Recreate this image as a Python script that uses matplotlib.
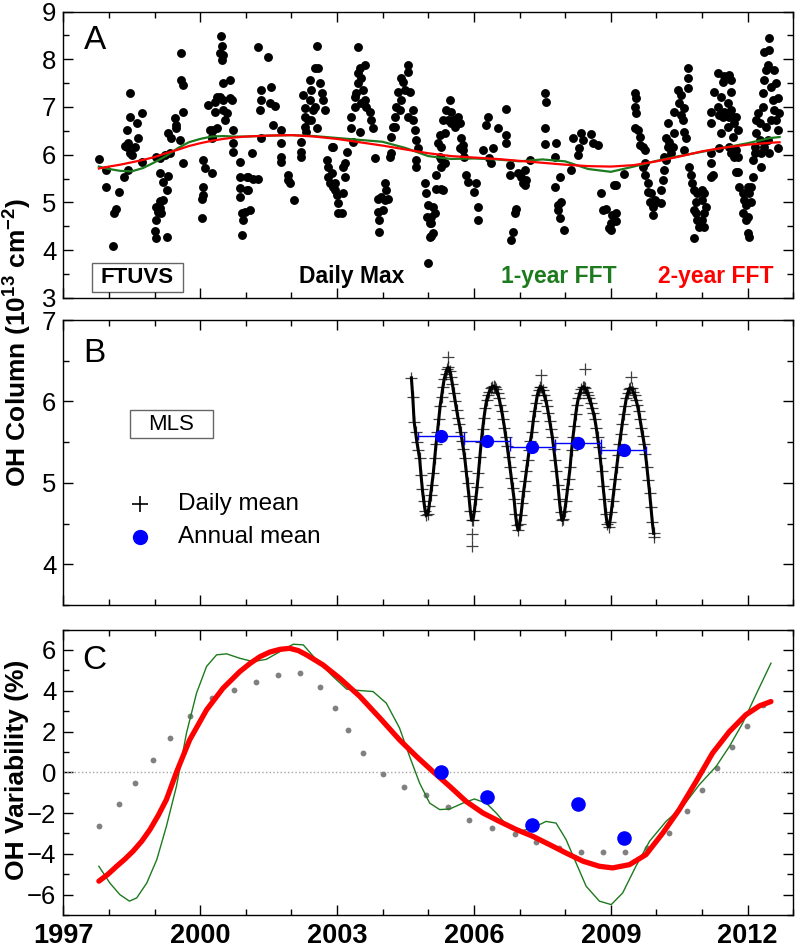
import numpy as np
import matplotlib
matplotlib.use('Agg')
import matplotlib.pyplot as plt
from matplotlib.ticker import MultipleLocator
from matplotlib.patches import Rectangle

plt.rcParams['font.family'] = ['Liberation Sans', 'DejaVu Sans']
plt.rcParams['mathtext.fontset'] = 'custom'
plt.rcParams['mathtext.rm'] = 'Liberation Sans'
plt.rcParams['mathtext.bf'] = 'Liberation Sans:bold'

# panel A: FTUVS daily max OH column (1e13 cm-2), one line per season
ftuvs_year = [
    1997.78, 1997.93, 1997.93, 1998.23, 1998.15, 1998.12, 1998.08, 1998.34, 1998.41, 1998.46, 1998.46, 1998.39, 1998.42, 1998.39, 1998.46, 1998.50, 1998.61, 1998.64, 1998.57, 1998.72, 1998.72, 1998.35,
    1999.04, 1999.08, 1999.12, 1999.12, 1999.04, 1999.01, 1999.04, 1999.15, 1999.19, 1999.19, 1999.12, 1999.28, 1999.28, 1999.30, 1999.04, 1999.12, 1999.23, 1999.34, 1999.30, 1999.37, 1999.45, 1999.48, 1999.48, 1999.63, 1999.63, 1999.59, 1999.59, 1999.56, 1999.63,
    2000.07, 2000.10, 2000.07, 2000.07, 2000.03, 2000.03, 2000.25, 2000.18, 2000.32, 2000.32, 2000.36, 2000.43, 2000.50, 2000.54, 2000.58, 2000.50, 2000.65, 2000.69, 2000.47, 2000.50, 2000.47, 2000.45, 2000.43, 2000.50, 2000.65, 2000.25, 2000.29, 2000.36, 2000.72, 2000.72, 2000.72, 2000.21, 2000.25,
    2000.87, 2000.87, 2000.87, 2000.87, 2000.91, 2000.94, 2000.91, 2001.02, 2001.02, 2000.98, 2001.05, 2001.09, 2001.05, 2001.16, 2001.27, 2001.13,
    2001.26, 2001.48, 2001.33, 2001.33, 2001.31, 2001.55, 2001.53, 2001.64, 2001.60, 2001.34, 2001.78, 2001.78, 2001.78, 2001.78, 2001.93, 2001.93, 2001.96, 2002.06,
    2002.22, 2002.22, 2002.21, 2002.29, 2002.29, 2002.29, 2002.26, 2002.40, 2002.44, 2002.51, 2002.59, 2002.55, 2002.40, 2002.48, 2002.37, 2002.44, 2002.55, 2002.66, 2002.69, 2002.73, 2002.62, 2002.51, 2002.33,
    2002.88, 2002.91, 2002.77, 2002.80, 2002.80, 2002.88, 2002.84, 2002.91, 2002.95, 2002.99, 2003.02, 2003.10, 2003.02, 2003.13, 2003.17, 2003.17, 2003.21, 2003.13, 2002.95,
    2003.31, 2003.35, 2003.31, 2003.39, 2003.42, 2003.46, 2003.46, 2003.46, 2003.50, 2003.61, 2003.53, 2003.57, 2003.61, 2003.64, 2003.72, 2003.75, 2003.79, 2003.39, 2003.53, 2003.50, 2003.83,
    2003.90, 2004.05, 2004.08, 2003.97, 2003.90, 2003.93, 2003.93, 2004.05, 2004.01, 2004.12,
    2004.19, 2004.19, 2004.15, 2004.23, 2004.26, 2004.30, 2004.34, 2004.41, 2004.45, 2004.56, 2004.56, 2004.48, 2004.59, 2004.41, 2004.37, 2004.56, 2004.67, 2004.67, 2004.70, 2004.74, 2004.77, 2004.74, 2004.74, 2004.26,
    2004.92, 2004.96, 2004.99, 2004.98, 2005.03, 2005.03, 2004.99, 2005.07, 2005.07, 2005.10, 2005.14, 2005.07, 2005.10,
    2005.17, 2005.28, 2005.32, 2005.17, 2005.28, 2005.25, 2005.28, 2005.21, 2005.25, 2005.36, 2005.32, 2005.39, 2005.47, 2005.43, 2005.50, 2005.54, 2005.50, 2005.58, 2005.65, 2005.69, 2005.36, 2005.28,
    2005.72, 2005.76, 2005.69, 2005.79, 2005.83, 2005.87, 2006.05, 2006.01, 2006.09, 2006.09, 2005.76,
    2006.20, 2006.31, 2006.27, 2006.42, 2006.34, 2006.38, 2006.52, 2006.71, 2006.71, 2006.71,
    2006.78, 2006.78, 2006.96, 2006.93, 2006.89, 2006.85, 2006.82, 2007.04, 2007.07, 2007.11, 2007.15, 2007.11, 2007.22,
    2007.55, 2007.58, 2007.55, 2007.55, 2007.80, 2007.77,
    2007.77, 2007.88, 2007.84, 2007.84, 2007.88, 2007.91, 2007.98,
    2008.13, 2008.17, 2008.28, 2008.31, 2008.35, 2008.39, 2008.57, 2008.61, 2008.71,
    2008.79, 2008.83, 2008.90, 2008.97, 2009.01, 2009.01, 2009.03, 2009.08, 2009.12, 2009.12, 2009.12, 2009.28,
    2009.52, 2009.55, 2009.52, 2009.55, 2009.52, 2009.59, 2009.63, 2009.63, 2009.70, 2009.74, 2009.74, 2009.70, 2009.74, 2009.81, 2009.81, 2009.88, 2009.85, 2009.92, 2009.92, 2009.96, 2009.99,
    2010.10, 2010.10, 2010.14, 2010.17, 2010.21, 2010.17, 2010.21, 2010.25, 2010.25, 2010.28, 2010.36, 2010.32, 2010.39, 2010.39, 2010.47, 2010.54, 2010.50, 2010.54, 2010.58, 2010.61, 2010.65, 2010.61, 2010.69, 2010.69, 2010.69, 2010.61,
    2010.72, 2010.76, 2010.79, 2010.83, 2010.90, 2010.87, 2010.83, 2010.87, 2010.90, 2010.83, 2010.94, 2011.01, 2011.05, 2011.05, 2011.01, 2011.05, 2011.09, 2011.00,
    2011.20, 2011.23, 2011.20, 2011.20, 2011.20, 2011.20, 2011.27, 2011.34, 2011.42, 2011.45, 2011.49, 2011.60, 2011.63, 2011.63, 2011.56, 2011.49, 2011.45, 2011.38, 2011.42, 2011.34, 2011.60, 2011.63, 2011.67, 2011.71, 2011.74, 2011.78, 2011.38, 2011.60, 2011.63, 2011.71, 2011.74, 2011.78, 2011.56, 2011.67, 2011.74, 2011.78,
    2011.82, 2011.89, 2011.93, 2011.96, 2011.89, 2012.00, 2012.00, 2012.04, 2012.07, 2012.04, 2012.07, 2012.00, 2011.96,
    2012.11, 2012.11, 2012.15, 2012.15, 2012.18, 2012.18, 2012.22, 2012.26, 2012.26, 2012.29, 2012.29, 2012.33, 2012.33, 2012.36, 2012.40, 2012.44, 2012.36, 2012.47, 2012.47, 2012.51, 2012.55, 2012.58, 2012.62, 2012.66, 2012.66, 2012.40, 2012.44, 2012.47, 2012.58, 2012.62, 2012.66, 2012.69, 2012.36, 2012.51,
]
ftuvs_max = [
    5.90, 5.68, 5.32, 5.21, 4.85, 4.78, 4.08, 5.54, 5.68, 7.29, 6.80, 6.52, 6.24, 6.17, 6.03, 5.99, 6.66, 6.34, 6.17, 6.87, 5.85, 6.18,
    4.91, 4.80, 4.88, 5.02, 4.63, 4.39, 4.25, 4.77, 5.05, 5.43, 5.61, 5.26, 4.28, 5.55, 5.96, 5.92, 5.99, 6.03, 6.45, 6.34, 6.76, 6.55, 6.62, 6.90, 7.46, 7.57, 8.13, 6.31, 5.82,
    5.89, 5.71, 5.33, 5.16, 5.08, 4.67, 5.61, 7.04, 7.11, 6.90, 7.22, 7.22, 6.94, 6.73, 6.87, 7.15, 7.18, 7.15, 7.99, 8.09, 8.27, 8.48, 8.13, 7.50, 7.57, 6.38, 6.52, 6.55, 6.52, 6.24, 6.06, 6.52, 6.34,
    5.85, 5.54, 5.30, 5.12, 4.77, 4.63, 4.32, 5.54, 5.26, 4.80, 5.26, 4.84, 5.54, 5.50, 5.48, 6.04,
    8.25, 8.04, 7.36, 7.15, 6.94, 7.43, 7.08, 7.02, 6.62, 6.34, 6.52, 6.24, 5.96, 5.85, 5.57, 5.47, 5.40, 5.05,
    6.27, 6.06, 5.96, 6.59, 6.80, 6.97, 7.25, 7.57, 7.36, 7.81, 7.81, 8.27, 7.15, 6.94, 6.73, 6.73, 6.55, 7.29, 7.15, 6.94, 7.50, 7.01, 6.48,
    6.17, 6.17, 5.89, 5.75, 5.54, 5.61, 5.40, 5.33, 5.26, 5.15, 4.98, 4.77, 4.77, 5.19, 5.54, 5.82, 6.06, 5.75, 5.40,
    6.55, 6.27, 6.80, 7.01, 7.29, 7.50, 7.71, 8.25, 7.81, 7.88, 7.60, 7.36, 7.15, 7.01, 6.90, 6.73, 6.55, 7.22, 7.08, 6.48, 5.92,
    5.08, 5.40, 5.26, 5.12, 4.80, 4.63, 4.38, 5.05, 4.84, 5.08,
    6.38, 6.03, 5.96, 6.59, 6.80, 7.01, 7.32, 7.60, 7.53, 7.88, 7.74, 7.36, 7.32, 7.15, 6.94, 6.80, 6.94, 6.73, 6.52, 6.31, 6.13, 5.89, 5.75, 6.59,
    5.40, 5.19, 4.94, 4.70, 4.56, 4.28, 3.73, 4.70, 4.56, 4.35, 4.77, 4.29, 4.91,
    5.29, 5.29, 5.26, 5.57, 5.75, 5.96, 6.17, 6.24, 6.41, 6.45, 6.73, 6.94, 7.15, 6.73, 6.66, 6.73, 6.90, 6.59, 6.80, 6.66, 5.82, 5.90,
    6.34, 6.20, 6.13, 5.96, 5.57, 5.43, 5.40, 5.22, 4.91, 4.63, 6.10,
    6.10, 6.80, 6.62, 6.13, 5.92, 5.82, 6.55, 6.95, 6.41, 6.24,
    5.78, 5.57, 5.61, 4.87, 4.77, 4.38, 4.21, 5.54, 5.40, 5.36, 5.47, 5.68, 5.89,
    7.30, 7.11, 6.55, 6.22, 6.25, 5.96,
    5.33, 5.54, 4.94, 4.84, 4.67, 5.01, 4.42,
    5.68, 6.34, 5.99, 6.13, 6.45, 6.31, 6.43, 6.24, 6.20,
    5.19, 4.84, 4.87, 4.46, 4.56, 4.42, 4.73, 5.36, 5.36, 4.77, 4.60, 5.60,
    7.29, 7.18, 7.01, 6.87, 6.55, 6.52, 6.38, 6.20, 6.17, 6.10, 5.82, 5.75, 5.57, 5.40, 5.22, 5.19, 5.01, 4.91, 4.73, 5.05, 5.01,
    4.98, 5.26, 5.47, 5.68, 5.89, 5.96, 6.34, 6.66, 6.17, 6.27, 6.17, 6.03, 6.45, 6.90, 7.36, 7.25, 7.08, 6.83, 6.73, 6.48, 6.34, 6.10, 7.81, 7.60, 7.39, 6.97,
    5.75, 5.57, 5.40, 5.26, 5.19, 5.01, 4.84, 4.77, 4.63, 4.25, 4.49, 4.63, 4.49, 4.77, 5.05, 5.19, 4.91, 5.26,
    5.54, 5.57, 5.82, 6.03, 6.66, 6.90, 7.32, 7.71, 7.22, 7.53, 7.64, 7.67, 7.57, 7.32, 7.08, 6.90, 6.80, 6.83, 6.45, 7.01, 6.80, 6.94, 6.80, 6.66, 6.80, 6.52, 6.13, 6.17, 6.03, 5.96, 6.10, 5.96, 6.59, 6.38, 5.64, 5.64,
    5.33, 5.19, 5.05, 4.94, 4.77, 4.70, 4.35, 4.28, 5.01, 5.19, 5.33, 5.33, 4.63,
    5.54, 5.89, 6.03, 6.17, 6.45, 6.73, 6.87, 6.66, 6.31, 6.03, 5.75, 7.01, 7.29, 7.57, 7.78, 7.88, 8.16, 8.20, 8.44, 7.43, 7.15, 6.94, 6.73, 6.52, 6.13, 6.59, 6.31, 6.03, 7.78, 7.50, 7.18, 6.87, 6.17, 6.73,
]

# panel A: FFT smoothed curves
fft_year = [1997.78, 1998.0, 1998.25, 1998.5, 1998.75, 1999.0, 1999.25, 1999.5, 1999.75, 2000.0,
            2000.25, 2000.5, 2000.75, 2001.0, 2001.5, 2002.0, 2002.5, 2003.0, 2003.5, 2004.0,
            2004.5, 2005.0, 2005.5, 2006.0, 2006.5, 2007.0, 2007.5, 2008.0, 2008.5, 2009.0,
            2009.5, 2010.0, 2010.5, 2011.0, 2011.5, 2012.0, 2012.5, 2012.7]
fft_1yr = [5.75, 5.70, 5.66, 5.65, 5.72, 5.84, 5.97, 6.13, 6.26, 6.33,
           6.38, 6.39, 6.38, 6.38, 6.40, 6.41, 6.39, 6.35, 6.31, 6.27,
           6.14, 5.97, 5.91, 5.92, 5.90, 5.86, 5.90, 5.86, 5.70, 5.64,
           5.75, 5.87, 5.97, 6.06, 6.15, 6.24, 6.35, 6.37]
fft_2yr = [5.71, 5.75, 5.79, 5.84, 5.89, 5.95, 6.03, 6.10, 6.18, 6.24,
           6.29, 6.33, 6.36, 6.38, 6.40, 6.41, 6.38, 6.33, 6.26, 6.19,
           6.11, 6.03, 5.97, 5.94, 5.91, 5.87, 5.83, 5.79, 5.76, 5.75,
           5.78, 5.86, 5.96, 6.07, 6.15, 6.21, 6.25, 6.26]

# panel B: MLS daily mean, roughly every 11 days from 2004.63
mls_start = 2004.63
mls_step = 0.03
mls_daily = [
    6.29, 6.05, 5.75, 5.62, 5.50, 5.40, 5.30, 5.10, 4.92, 4.78, 4.66, 4.60,
    4.62, 4.72, 4.85, 4.98, 5.12, 5.30, 5.48, 5.62, 5.78, 5.95, 6.06, 6.18, 6.28, 6.34, 6.40, 6.42, 6.38,
    6.30, 6.21, 6.10, 6.00, 5.90, 5.80, 5.72, 5.62, 5.52, 5.42, 5.30, 5.15, 5.00, 4.84, 4.66, 4.54,
    4.55, 4.65, 4.80, 4.95, 5.12, 5.32, 5.50, 5.66, 5.80, 5.92, 6.02, 6.08, 6.12, 6.16, 6.18, 6.19, 6.18, 6.15, 6.10, 6.04,
    5.96, 5.88, 5.78, 5.68, 5.56, 5.45, 5.32, 5.20, 5.06, 4.94, 4.80, 4.62, 4.48, 4.42,
    4.50, 4.60, 4.75, 4.90, 5.02, 5.15, 5.28, 5.40, 5.52, 5.62, 5.76, 5.88, 5.98, 6.08, 6.14, 6.18, 6.18, 6.14, 6.08, 6.02,
    5.95, 5.86, 5.76, 5.66, 5.56, 5.42, 5.28, 5.14, 4.98, 4.80, 4.64, 4.54,
    4.56, 4.66, 4.78, 4.92, 5.05, 5.20, 5.40, 5.56, 5.70, 5.84, 5.96, 6.04, 6.10, 6.15, 6.18, 6.18, 6.16, 6.12, 6.08, 6.04, 5.98, 5.92,
    5.86, 5.78, 5.68, 5.56, 5.44, 5.30, 5.14, 4.96, 4.80, 4.62, 4.50, 4.46,
    4.52, 4.64, 4.78, 4.92, 5.05, 5.20, 5.34, 5.48, 5.60, 5.72, 5.84, 5.94, 6.04, 6.10, 6.15, 6.17, 6.16, 6.12, 6.08, 6.02,
    5.96, 5.88, 5.78, 5.68, 5.58, 5.48, 5.36, 5.20, 5.04, 4.88, 4.70, 4.52, 4.38,
]
mls_outlier_year = [2005.43, 2005.95, 2005.95, 2007.46, 2008.44, 2009.45, 2009.94]
mls_outlier_val = [6.55, 4.37, 4.22, 6.33, 6.40, 6.30, 4.33]

# MLS annual means (panel B) and their variability (panel C)
mls_year = [2005.28, 2006.28, 2007.28, 2008.28, 2009.28]
mls_annual = [5.58, 5.51, 5.44, 5.49, 5.40]
mls_var = [0.00, -1.23, -2.60, -1.54, -3.22]

# panel C: OH variability (%)
var_2yr_year = [1997.78, 1997.98, 1998.17, 1998.35, 1998.53, 1998.72, 1998.90, 1999.08, 1999.26, 1999.48,
                1999.77, 2000.14, 2000.50, 2000.87, 2001.10, 2001.31, 2001.53, 2001.75, 2001.96, 2002.15,
                2002.33, 2002.69, 2003.06, 2003.50, 2003.94, 2004.37, 2004.74,
                2005.10, 2005.47, 2005.83, 2006.20, 2006.56, 2006.93, 2007.29, 2007.66, 2008.02, 2008.39,
                2008.75, 2009.04, 2009.41, 2009.77, 2010.14, 2010.50, 2010.87, 2011.23, 2011.60, 2011.96,
                2012.26, 2012.51]
var_2yr = [-5.34, -5.00, -4.61, -4.26, -3.87, -3.38, -2.81, -2.12, -1.34, 0.00,
           1.59, 3.06, 4.12, 4.94, 5.35, 5.67, 5.90, 6.03, 6.08, 5.97,
           5.76, 5.27, 4.61, 3.72, 2.66, 1.59, 0.78,
           0.04, -0.69, -1.43, -2.00, -2.41, -2.81, -3.14, -3.55, -3.96, -4.36,
           -4.61, -4.69, -4.53, -4.04, -2.98, -1.83, -0.45, 0.94, 2.00, 2.82,
           3.26, 3.47]
var_1yr_year = [1997.78, 1998.02, 1998.24, 1998.45, 1998.61, 1998.83, 1999.05, 1999.26, 1999.48, 1999.70,
                1999.92, 2000.14, 2000.36, 2000.58, 2000.87, 2001.16, 2001.45, 2001.75, 2002.04, 2002.26,
                2002.55, 2002.91, 2003.21, 2003.50, 2003.79, 2004.08, 2004.37, 2004.59, 2004.81, 2005.03,
                2005.25, 2005.47, 2005.76, 2006.01, 2006.27, 2006.49, 2006.71, 2007.00, 2007.29, 2007.58,
                2007.80, 2008.02, 2008.24, 2008.46, 2008.75, 2009.01, 2009.26, 2009.55, 2009.85, 2010.21,
                2010.58, 2010.94, 2011.31, 2011.60, 2011.89, 2012.18, 2012.51]
var_1yr = [-4.61, -5.43, -6.00, -6.32, -6.16, -5.43, -4.28, -2.65, -0.69, 1.92,
           3.88, 5.19, 5.76, 5.81, 5.59, 5.43, 5.54, 5.92, 6.28, 6.25,
           5.51, 4.70, 4.08, 4.01, 3.96, 3.39, 2.17, 0.78, -0.53, -1.51,
           -1.83, -1.80, -1.51, -1.31, -1.51, -2.00, -2.57, -2.90, -2.73, -2.41,
           -2.49, -3.30, -4.45, -5.59, -6.32, -6.49, -5.92, -4.61, -3.38, -2.41,
           -1.67, -0.61, 0.29, 1.27, 2.41, 3.80, 5.35]
gray_year = [1997.78, 1998.22, 1998.58, 1998.96, 1999.34, 1999.78, 2000.26, 2000.75, 2001.23, 2001.70,
             2002.18, 2002.62, 2002.96, 2003.25, 2003.57, 2004.00, 2004.47, 2004.96, 2005.43, 2005.90,
             2006.40, 2006.89, 2007.37, 2007.86, 2008.35, 2008.84, 2009.32, 2009.80, 2010.27, 2010.66,
             2010.99, 2011.33, 2011.65, 2011.98, 2012.33]
gray_val = [-2.65, -1.57, -0.51, 0.58, 1.66, 2.74, 3.62, 4.06, 4.42, 4.79,
            4.86, 4.16, 3.13, 2.05, 0.96, -0.09, -0.71, -1.13, -1.72, -2.34,
            -2.75, -3.04, -3.40, -3.73, -3.92, -3.92, -3.91, -3.70, -2.98, -1.90,
            -0.85, 0.22, 1.22, 2.26, 3.31]

year_ticks = [1997, 2000, 2003, 2006, 2009, 2012]
green = '#1e7a1e'


def style_axis(ax, show_x):
    ax.set_xlim(1997, 2013)
    ax.set_xticks(year_ticks)
    ax.xaxis.set_minor_locator(MultipleLocator(1))
    ax.tick_params(which='both', direction='in', top=True, right=True, width=1)
    ax.tick_params(which='major', length=7)
    ax.tick_params(which='minor', length=4)
    ax.tick_params(axis='y', labelsize=18.5, pad=5)
    if show_x:
        ax.set_xticklabels([str(y) for y in year_ticks], fontsize=19.5, fontweight='bold')
        ax.tick_params(axis='x', pad=6)
    else:
        ax.tick_params(axis='x', labelbottom=False)
    for s in ax.spines.values():
        s.set_linewidth(1.0)


fig = plt.figure(figsize=(7.96, 9.48), dpi=100)
axA = fig.add_axes([0.0795, 0.686, 0.9171, 0.3017])
axB = fig.add_axes([0.0795, 0.3618, 0.9171, 0.3006])
axC = fig.add_axes([0.0795, 0.0348, 0.9171, 0.3011])

# panel A #
axA.plot(ftuvs_year, ftuvs_max, 'o', color='k', ms=6.4, mec='k', mew=0)
axA.plot(fft_year, fft_1yr, color=green, lw=1.6)
axA.plot(fft_year, fft_2yr, color='red', lw=1.6)
axA.set_ylim(3, 9)
axA.yaxis.set_major_locator(MultipleLocator(1))
axA.yaxis.set_minor_locator(MultipleLocator(0.5))
style_axis(axA, False)
axA.text(0.043, 0.90, 'A', transform=axA.transAxes, fontsize=24, ha='center', va='center')
axA.add_patch(Rectangle((0.039, 0.021), 0.1255, 0.099, transform=axA.transAxes,
                        fill=False, ec='0.4', lw=1))
axA.text(0.1016, 0.071, 'FTUVS', transform=axA.transAxes, fontsize=16, fontweight='bold',
         ha='center', va='center')
axA.text(0.395, 0.075, 'Daily Max', transform=axA.transAxes, fontsize=16.5, fontweight='bold',
         ha='center', va='center')
axA.text(0.679, 0.075, '1-year FFT', transform=axA.transAxes, fontsize=16.5, fontweight='bold',
         ha='center', va='center', color=green)
axA.text(0.894, 0.075, '2-year FFT', transform=axA.transAxes, fontsize=16.5, fontweight='bold',
         ha='center', va='center', color='red')

# panel B #
mls_day_year = mls_start + mls_step * np.arange(len(mls_daily))
axB.plot(mls_day_year, mls_daily, '-', color='k', lw=2.2)
axB.plot(mls_day_year, mls_daily, '+', color='k', ms=9, mew=0.9, alpha=0.75)
axB.plot(mls_outlier_year, mls_outlier_val, '+', color='k', ms=9, mew=0.9, alpha=0.75)
axB.errorbar(mls_year, mls_annual, xerr=0.5, fmt='o', color='blue', ms=8.5, lw=1,
             capsize=3, elinewidth=1)
axB.set_ylim(3.5, 7)
axB.yaxis.set_major_locator(MultipleLocator(1))
axB.yaxis.set_minor_locator(MultipleLocator(0.5))
style_axis(axB, False)
axB.text(0.043, 0.884, 'B', transform=axB.transAxes, fontsize=24, ha='center', va='center')
axB.add_patch(Rectangle((0.0914, 0.586), 0.1137, 0.098, transform=axB.transAxes,
                        fill=False, ec='0.4', lw=1))
axB.text(0.148, 0.635, 'MLS', transform=axB.transAxes, fontsize=16, ha='center', va='center')
axB.plot([0.105], [0.354], '+', transform=axB.transAxes, color='k', ms=12, mew=1.2)
axB.plot([0.105], [0.239], 'o', transform=axB.transAxes, color='blue', ms=10)
axB.text(0.157, 0.354, 'Daily mean', transform=axB.transAxes, fontsize=17.5, va='center')
axB.text(0.157, 0.239, 'Annual mean', transform=axB.transAxes, fontsize=17.5, va='center')

# panel C #
axC.axhline(0, color='0.65', ls=':', lw=1)
axC.plot(gray_year, gray_val, 'o', color='0.5', ms=4.2, mew=0)
axC.plot(var_1yr_year, var_1yr, color=green, lw=1)
axC.plot(var_2yr_year, var_2yr, color='red', lw=3.8, solid_capstyle='round',
         solid_joinstyle='round')
axC.plot(mls_year, mls_var, 'o', color='blue', ms=10.5, mew=0)
axC.set_ylim(-7, 7)
axC.yaxis.set_major_locator(MultipleLocator(2))
axC.yaxis.set_minor_locator(MultipleLocator(1))
style_axis(axC, True)
axC.text(0.043, 0.89, 'C', transform=axC.transAxes, fontsize=24, ha='center', va='center')

# y labels #
fig.text(0.021, 0.639, r'OH Column (10$^{\mathbf{13}}$ cm$^{\mathbf{-2}}$)', rotation=90,
         fontsize=19, fontweight='bold', ha='center', va='center')
fig.text(0.021, 0.188, 'OH Variability (%)', rotation=90,
         fontsize=19, fontweight='bold', ha='center', va='center')

fig.savefig('out.png', dpi=100)
